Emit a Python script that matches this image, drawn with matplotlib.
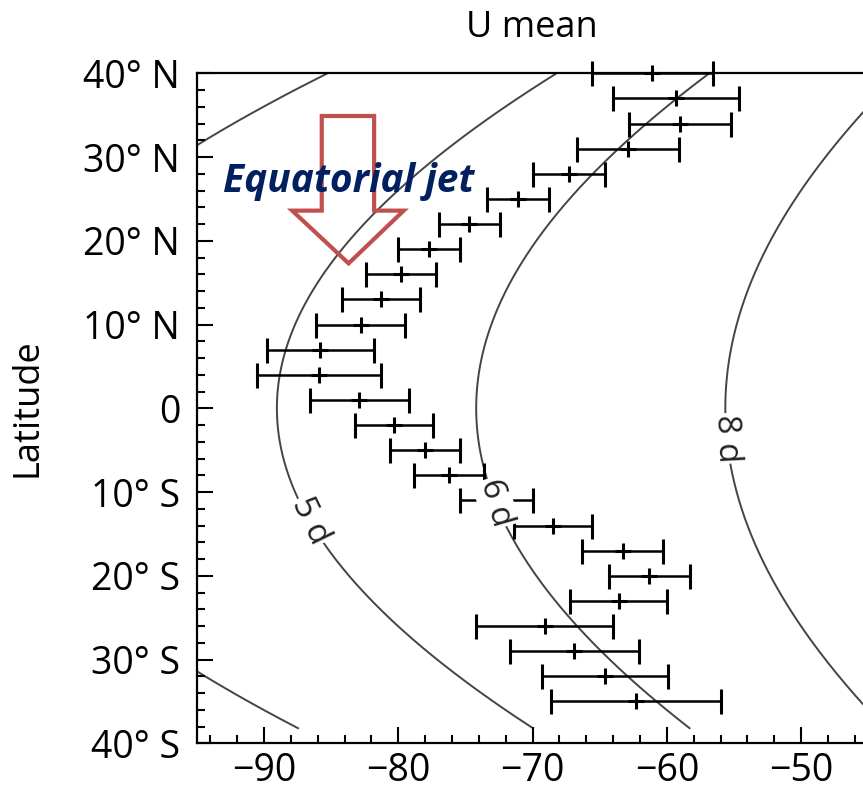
import numpy as np
import matplotlib
matplotlib.use("Agg")
import matplotlib.pyplot as plt
from matplotlib.patches import Polygon
from matplotlib.ticker import MultipleLocator

plt.rcParams['font.family'] = ['Open Sans', 'DejaVu Sans']

# measured zonal wind (m/s) by latitude, with error bars
lat = [40, 37, 34, 31, 28, 25, 22, 19, 16, 13, 10, 7, 4, 1,
       -2, -5, -8, -11, -14, -17, -20, -23, -26, -29, -32, -35]
u_mean = [-61.1, -59.3, -59.0, -62.9, -67.3, -71.1, -74.7, -77.7, -79.8, -81.3,
          -82.8, -85.8, -85.9, -82.9, -80.3, -78.0, -76.2, -72.7, -68.5, -63.3,
          -61.3, -63.6, -69.1, -66.9, -64.6, -62.3]
u_err = [4.5, 4.7, 3.8, 3.8, 2.7, 2.3, 2.3, 2.3, 2.6, 2.9,
         3.3, 4.0, 4.6, 3.7, 2.9, 2.6, 2.6, 2.7, 2.9, 3.0,
         3.0, 3.6, 5.1, 4.8, 4.7, 6.3]

# lines of constant rotation period (days) at cloud-top radius
periods = [4, 5, 6, 8]
period_labels = ['', '5 d', '6 d', '8 d']
label_lat = [0, -13.5, -11.3, -3.6]
label_rot = [0, -64, -74, -87]
radius_m = 6122e3

y_ticks = [40, 30, 20, 10, 0, -10, -20, -30, -40]
y_ticklabels = ['40° N', '30° N', '20° N', '10° N', '0',
                '10° S', '20° S', '30° S', '40° S']
x_ticks = [-90, -80, -70, -60, -50]

fig = plt.figure(figsize=(8.63, 7.93), dpi=100)
ax = fig.add_axes([0.2281, 0.0627, 0.7781, 0.8449])

phi = np.linspace(-38.2, 40, 300)
for p, lab, llat, rot in zip(periods, period_labels, label_lat, label_rot):
    amp = 2 * np.pi * radius_m / (p * 86400)
    ax.plot(-amp * np.cos(np.radians(phi)), phi, color='#444444', lw=1.4, zorder=1)
    if lab:
        ax.text(-amp * np.cos(np.radians(llat)), llat, lab, rotation=rot,
                rotation_mode='anchor', ha='center', va='center', fontsize=24,
                color='#222222', zorder=4,
                bbox=dict(facecolor='white', edgecolor='none', pad=1))

ax.errorbar(u_mean, lat, xerr=u_err, fmt='+', color='black', ms=11, mew=2.2,
            elinewidth=1.8, capsize=9, capthick=1.8, clip_on=False, zorder=3)

ax.set_xlim(-95, -45)
ax.set_ylim(-40, 40)
ax.set_xticks(x_ticks)
ax.set_yticks(y_ticks)
ax.set_yticklabels(y_ticklabels)
ax.xaxis.set_minor_locator(MultipleLocator(2))
ax.yaxis.set_minor_locator(MultipleLocator(2))
ax.tick_params(which='both', direction='in', width=1.5, labelsize=27,
               top=False, right=False)
ax.tick_params(axis='y', pad=12)
ax.tick_params(axis='x', pad=6)
ax.tick_params(which='major', length=11.5)
ax.tick_params(which='minor', length=6)
for s in ax.spines.values():
    s.set_linewidth(1.6)

fig.text(532 / 863, 1 - 28 / 793, 'U mean', ha='center', va='center', fontsize=26)
fig.text(28 / 863, 1 - 408 / 793, 'Latitude', ha='center', va='center',
         rotation=90, fontsize=26)

# annotation arrow
arrow_x = [-85.7, -81.8, -81.8, -79.6, -83.7, -87.9, -85.7]
arrow_y = [34.9, 34.9, 23.6, 23.6, 17.3, 23.6, 23.6]
ax.add_patch(Polygon(np.column_stack([arrow_x, arrow_y]), closed=True, fill=False,
                     edgecolor='#C0504D', lw=3, joinstyle='miter', zorder=5))
ax.text(-83.7, 25.8, 'Equatorial jet', ha='center', va='baseline', fontsize=28,
        fontweight='bold', fontstyle='italic', color='#002060', zorder=6)

plt.savefig('out.png', dpi=100)
